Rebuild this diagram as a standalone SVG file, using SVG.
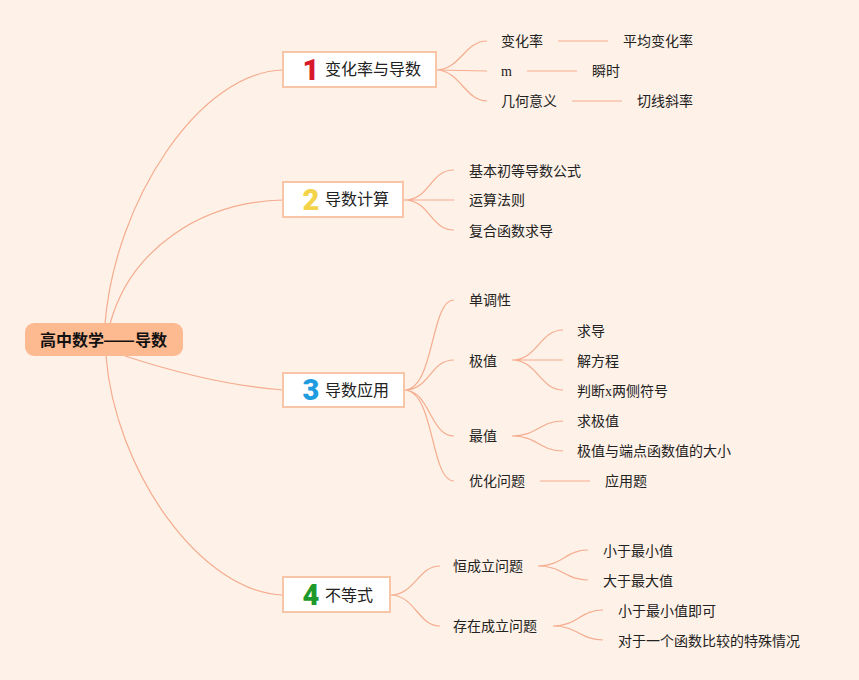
<svg xmlns="http://www.w3.org/2000/svg" width="859" height="680" viewBox="0 0 859 680">
<style>
.bg{fill:#FEF1E7}
.ln{fill:none;stroke:#F5AC8F;stroke-width:1.2}
.box{fill:#FFFFFF;stroke:#F8C6A6;stroke-width:2}
.mt{font-family:"Noto Sans CJK SC","Noto Sans",sans-serif;font-size:16px;fill:#222}
.ct{font-family:"Noto Sans CJK SC","Noto Sans",sans-serif;font-size:14px;fill:#222}
.rt{font-family:"Noto Sans CJK SC",sans-serif;font-size:16px;font-weight:bold;fill:#111}
.num{font-family:Roboto,"Liberation Sans",sans-serif;font-weight:900;font-size:29px}
.ser{font-family:"Liberation Serif",serif}
</style>
<rect class="bg" x="0" y="0" width="859" height="680"/>
<g id="connectors">
<path class="ln" d="M105,324 C115,200 200,72 283,70"/>
<path class="ln" d="M110,324 C130,250 200,202 283,200"/>
<path class="ln" d="M125,356 C180,374 230,386 283,390"/>
<path class="ln" d="M106,356 C115,470 200,592 283,595"/>
<path class="ln" d="M436,70 C460,70 465,41 487,41 M436,70 L487,71 M436,70 C460,70 465,101 487,101"/>
<path class="ln" d="M558,41 H608 M527,71 H577 M572,101 H622"/>
<path class="ln" d="M404,200 C430,200 430,170 454,170 M404,200 L454,200 M404,200 C430,200 430,230 454,230"/>
<path class="ln" d="M404,390 C435,390 430,300 454,300 M404,390 C430,390 430,360 454,360 M404,390 C430,390 430,436 454,436 M404,390 C435,390 430,481 454,481"/>
<path class="ln" d="M512,360 C537,360 540,330 563,330 M512,360 L563,360 M512,360 C537,360 540,390 563,390"/>
<path class="ln" d="M512,436 C537,436 540,421 563,421 M512,436 C537,436 540,451 563,451"/>
<path class="ln" d="M540,481 H590"/>
<path class="ln" d="M390,595 C415,595 418,566 440,566 M390,595 C415,595 418,626 440,626"/>
<path class="ln" d="M538,566 C562,566 566,550 588,550 M538,566 C562,566 566,580 588,580"/>
<path class="ln" d="M553,626 C577,626 581,610 603,610 M553,626 C577,626 581,640 603,640"/>
</g>
<g id="root">
<rect x="25" y="323" width="158" height="33" rx="9" fill="#FDB990"/>
<text class="rt" x="40" y="346">高中数学</text>
<text class="rt" x="103" y="346" textLength="32" lengthAdjust="spacingAndGlyphs">——</text>
<text class="rt" x="135" y="346">导数</text>
</g>
<g id="n1">
<rect class="box" x="283" y="52" width="153" height="35"/>
<text class="num" x="311" y="80" text-anchor="middle" fill="#D7192B">1</text>
<text class="mt" x="325" y="75">变化率与导数</text>
</g>
<g id="n2">
<rect class="box" x="283" y="182" width="120" height="35"/>
<text class="num" x="311" y="210" text-anchor="middle" fill="#F3D349">2</text>
<text class="mt" x="325" y="205">导数计算</text>
</g>
<g id="n3">
<rect class="box" x="283" y="373" width="121" height="34"/>
<text class="num" x="311" y="400" text-anchor="middle" fill="#1F9BE0">3</text>
<text class="mt" x="325" y="396">导数应用</text>
</g>
<g id="n4">
<rect class="box" x="283" y="577" width="107" height="35"/>
<text class="num" x="311" y="605" text-anchor="middle" fill="#1E9A2C">4</text>
<text class="mt" x="325" y="601">不等式</text>
</g>
<g id="c1"><text class="ct" x="501" y="46">变化率</text></g>
<g id="c1a"><text class="ct" x="623" y="46">平均变化率</text></g>
<g id="c2"><text class="ct ser" x="501" y="76">m</text></g>
<g id="c2a"><text class="ct" x="592" y="76">瞬时</text></g>
<g id="c3"><text class="ct" x="501" y="106">几何意义</text></g>
<g id="c3a"><text class="ct" x="637" y="106">切线斜率</text></g>
<g id="c4"><text class="ct" x="469" y="176">基本初等导数公式</text></g>
<g id="c5"><text class="ct" x="469" y="205">运算法则</text></g>
<g id="c6"><text class="ct" x="469" y="236">复合函数求导</text></g>
<g id="c7"><text class="ct" x="469" y="305">单调性</text></g>
<g id="c8"><text class="ct" x="469" y="366">极值</text></g>
<g id="c8a"><text class="ct" x="577" y="336">求导</text></g>
<g id="c8b"><text class="ct" x="577" y="366">解方程</text></g>
<g id="c8c"><text class="ct" x="577" y="396">判断<tspan class="ser">x</tspan>两侧符号</text></g>
<g id="c9"><text class="ct" x="469" y="441">最值</text></g>
<g id="c9a"><text class="ct" x="577" y="426">求极值</text></g>
<g id="c9b"><text class="ct" x="577" y="456">极值与端点函数值的大小</text></g>
<g id="c10"><text class="ct" x="469" y="486">优化问题</text></g>
<g id="c10a"><text class="ct" x="605" y="486">应用题</text></g>
<g id="c11"><text class="ct" x="453" y="571">恒成立问题</text></g>
<g id="c11a"><text class="ct" x="603" y="556">小于最小值</text></g>
<g id="c11b"><text class="ct" x="603" y="586">大于最大值</text></g>
<g id="c12"><text class="ct" x="453" y="631">存在成立问题</text></g>
<g id="c12a"><text class="ct" x="618" y="616">小于最小值即可</text></g>
<g id="c12b"><text class="ct" x="618" y="646">对于一个函数比较的特殊情况</text></g>
</svg>
